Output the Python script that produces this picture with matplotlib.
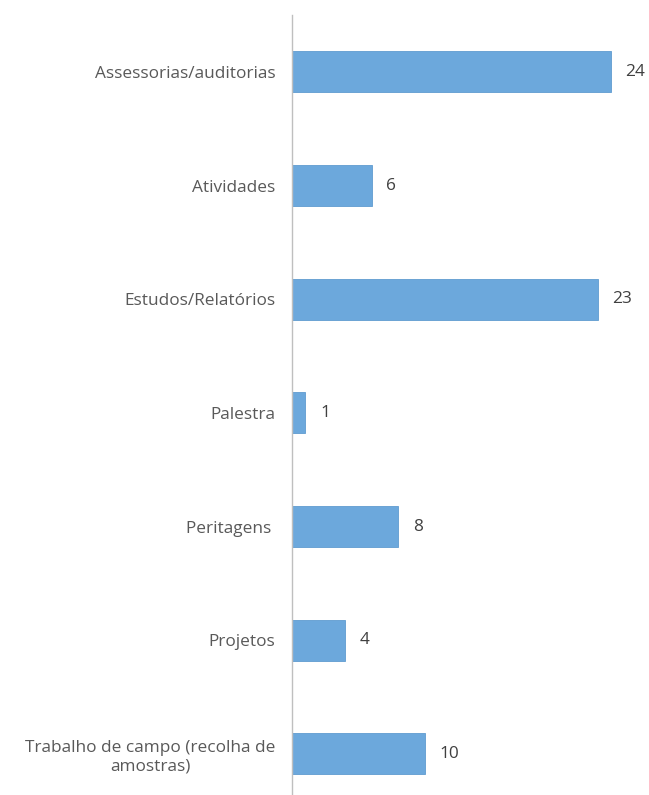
import matplotlib
matplotlib.use("Agg")
import matplotlib.pyplot as plt

categories = ["Assessorias/auditorias", "Atividades", "Estudos/Relatórios", "Palestra",
              "Peritagens ", "Projetos", "Trabalho de campo (recolha de\namostras)"]
values = [24, 6, 23, 1, 8, 4, 10]

W, H = 649, 795
fig = plt.figure(figsize=(W/100, H/100), dpi=100)
left = 292 / W
xmax = 26
px_per_unit = (611 - 292) / 24
right = (292 + xmax * px_per_unit) / W
top_px, bot_px = 15, 795
ax = fig.add_axes([left, 1 - bot_px / H, right - left, (bot_px - top_px) / H])

spacing = (754 - 72) / 6
y0 = -0.5
y1 = 6 + (bot_px - 754) / spacing
ypos = list(range(len(categories)))
ax.barh(ypos, values, height=41 / spacing, color="#6CA8DC", edgecolor="#5F9BD0", linewidth=0.6)
ax.set_ylim(y1, y0)
ax.set_xlim(0, xmax)

for sp in ["top", "right", "bottom"]:
    ax.spines[sp].set_visible(False)
ax.spines["left"].set_color("#BFBFBF")
ax.spines["left"].set_linewidth(1.0)
ax.set_xticks([])
ax.set_yticks(ypos)
ax.set_yticklabels(categories, fontfamily="Open Sans", fontsize=12.4, color="#595959",
                   ha="right", multialignment="center")
ax.tick_params(axis="y", length=0, pad=12)

for y, v in zip(ypos, values):
    ax.text(v + 1.1, y, str(v), va="center", ha="left", fontfamily="Open Sans",
            fontsize=12.4, color="#404040")

fig.savefig("out.png", dpi=100)
